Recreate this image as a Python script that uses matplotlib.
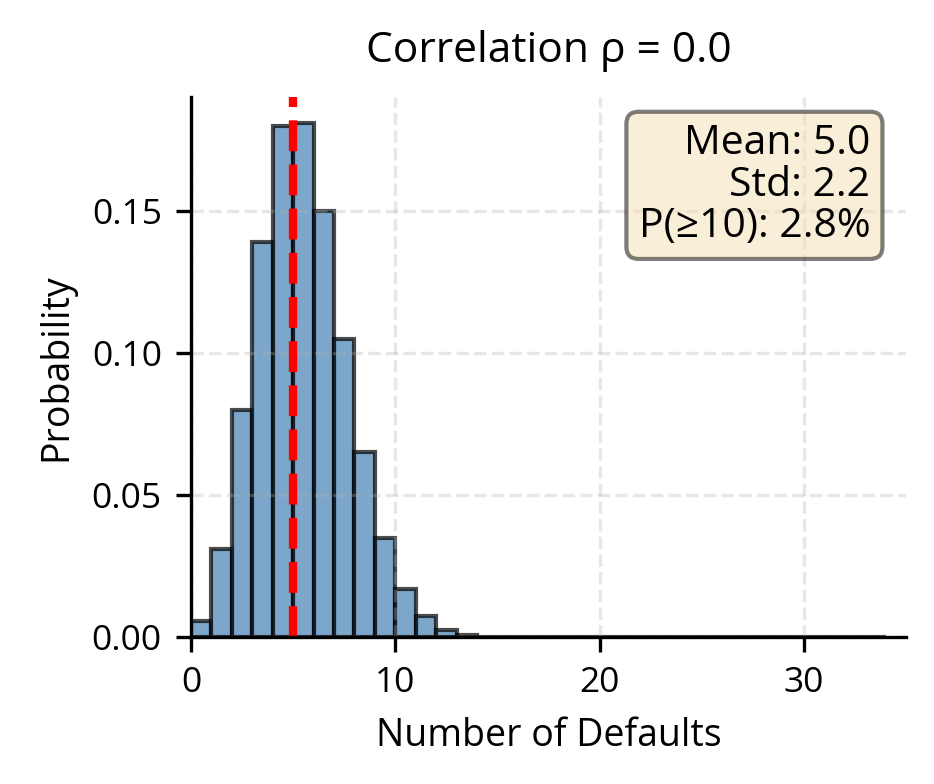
import matplotlib
matplotlib.use("Agg")
import matplotlib.pyplot as plt
import numpy as np

plt.rcParams['font.family'] = ['Open Sans', 'DejaVu Sans']

# Data
bin_edges = list(range(0, 35))  # 0..34, width-1 bins
probabilities = [0.0056, 0.031, 0.080, 0.139, 0.180, 0.181, 0.150, 0.105,
                 0.065, 0.035, 0.017, 0.0075, 0.0025, 0.0008] + [0.0] * 20
mean_value = 5.0
std_value = 2.2
tail_prob = 2.8
title = "Correlation ρ = 0.0"
x_ticks = [0, 10, 20, 30]
y_ticks = [0.00, 0.05, 0.10, 0.15]

fig = plt.figure(figsize=(934 / 300, 784 / 300), dpi=300)
ax = fig.add_axes([0.2045, 0.1875, 0.7655, 0.6888])

lefts = bin_edges[:-1]
ax.bar(lefts, probabilities, width=1.0, align='edge', color='steelblue',
       edgecolor='black', alpha=0.7, linewidth=1.0)
ax.axvline(mean_value, color='red', linestyle='--', linewidth=2)

ax.set_xlim(0, 35)
ax.set_xticks(x_ticks)
ax.set_yticks(y_ticks)
ax.set_yticklabels([f"{v:.2f}" for v in y_ticks])
ax.set_title(title, fontsize=10.2, pad=8.5)
ax.set_xlabel("Number of Defaults", fontsize=9)
ax.set_ylabel("Probability", fontsize=9)
ax.tick_params(labelsize=8.5)
ax.grid(True, linestyle='--', alpha=0.3)
ax.spines['top'].set_visible(False)
ax.spines['right'].set_visible(False)

txt = f"Mean: {mean_value:.1f}\nStd: {std_value:.1f}\nP(≥10): {tail_prob:.1f}%"
ax.text(0.95, 0.95, txt, transform=ax.transAxes, fontsize=9.8, va='top', ha='right',
        linespacing=1.02,
        bbox=dict(boxstyle='round', facecolor='wheat', alpha=0.5))

fig.savefig("out.png", dpi=300)
